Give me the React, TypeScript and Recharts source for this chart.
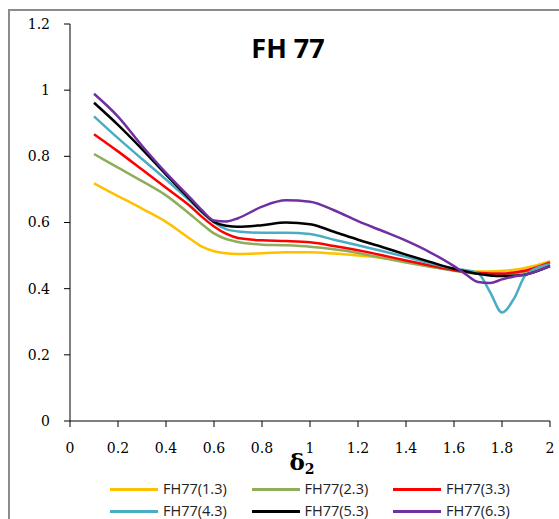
import React from "react";
import { LineChart, Line, XAxis, YAxis, Legend } from "recharts";

// x values (δ2)
const xs = [0.1, 0.2, 0.3, 0.4, 0.5, 0.55, 0.6, 0.65, 0.7, 0.8, 0.9, 1.0, 1.1, 1.2, 1.3, 1.4, 1.5, 1.6, 1.65, 1.7, 1.75, 1.8, 1.85, 1.9, 2.0];

const fh77_13 = [0.718, 0.68, 0.642, 0.602, 0.551, 0.527, 0.513, 0.507, 0.505, 0.507, 0.51, 0.51, 0.506, 0.5, 0.493, 0.481, 0.468, 0.456, 0.453, 0.452, 0.452, 0.454, 0.457, 0.463, 0.483];
const fh77_23 = [0.807, 0.766, 0.725, 0.682, 0.625, 0.595, 0.567, 0.55, 0.541, 0.533, 0.531, 0.527, 0.519, 0.508, 0.493, 0.479, 0.466, 0.454, 0.449, 0.445, 0.443, 0.443, 0.446, 0.452, 0.474];
const fh77_33 = [0.867, 0.815, 0.76, 0.705, 0.65, 0.617, 0.588, 0.566, 0.553, 0.546, 0.544, 0.54, 0.529, 0.516, 0.501, 0.485, 0.47, 0.456, 0.451, 0.448, 0.446, 0.446, 0.449, 0.455, 0.479];
const fh77_43 = [0.921, 0.855, 0.792, 0.73, 0.665, 0.63, 0.6, 0.58, 0.573, 0.569, 0.569, 0.565, 0.548, 0.531, 0.514, 0.496, 0.477, 0.46, 0.456, 0.447, 0.39, 0.328, 0.37, 0.443, 0.474];
const fh77_53 = [0.962, 0.895, 0.822, 0.745, 0.67, 0.633, 0.602, 0.59, 0.587, 0.592, 0.6, 0.595, 0.572, 0.548, 0.526, 0.503, 0.481, 0.46, 0.452, 0.445, 0.44, 0.438, 0.439, 0.443, 0.468];
const fh77_63 = [0.989, 0.92, 0.832, 0.75, 0.675, 0.637, 0.606, 0.603, 0.613, 0.648, 0.667, 0.663, 0.637, 0.604, 0.575, 0.545, 0.51, 0.468, 0.443, 0.42, 0.417, 0.428, 0.437, 0.443, 0.468];

const seriesNames = ["FH77(1.3)", "FH77(2.3)", "FH77(3.3)", "FH77(4.3)", "FH77(5.3)", "FH77(6.3)"];
const seriesValues = [fh77_13, fh77_23, fh77_33, fh77_43, fh77_53, fh77_63];
const seriesColors = ["#FFC000", "#8FAD5A", "#FF0000", "#4BACC6", "#000000", "#7030A0"];

const xTicks = [0, 0.2, 0.4, 0.6, 0.8, 1, 1.2, 1.4, 1.6, 1.8, 2];
const yTicks = [0, 0.2, 0.4, 0.6, 0.8, 1, 1.2];

const data = xs.map((x, i) => {
  const row: Record<string, number> = { x };
  seriesNames.forEach((n, k) => {
    row[n] = seriesValues[k][i];
  });
  return row;
});

const tickFont = { fontFamily: "'DejaVu Serif', serif", fontSize: 14, fill: "#000" };

const LegendContent = () => (
  <div style={{ position: "relative", width: 559, height: 36 }}>
    {seriesNames.map((n, k) => {
      const col = k % 3;
      const row = Math.floor(k / 3);
      const left = 110 + col * 141.5;
      const top = row * 22;
      return (
        <div key={n} style={{ position: "absolute", left, top, height: 14, display: "flex", alignItems: "center", whiteSpace: "nowrap" }}>
          <div style={{ width: 48, height: 3, background: seriesColors[k] }} />
          <span style={{ marginLeft: 5, fontFamily: "'Open Sans', sans-serif", fontSize: 14.5, lineHeight: "14px", color: "#222" }}>{n}</span>
        </div>
      );
    })}
  </div>
);

const AxisLabel = (props: any) => {
  const vb = props.viewBox || {};
  const cx = vb.x + vb.width / 2 - 8;
  return (
    <text x={cx} y={vb.y + 49} textAnchor="middle" fontFamily="'DejaVu Serif', serif" fontWeight="bold" fontSize={23} fill="#000">
      <tspan>δ</tspan>
      <tspan fontSize={14} dy={4}>2</tspan>
    </text>
  );
};

export default function App() {
  return (
    <div style={{ position: "absolute", left: 0, top: 0, width: 559, height: 519, background: "#fff", overflow: "hidden" }}>
      <div style={{ position: "absolute", left: 8, top: 9, width: 600, height: 600, border: "2px solid #8c8c8c", boxSizing: "border-box" }} />
      <div style={{ position: "absolute", left: 200, width: 176, top: 30, textAlign: "center", fontFamily: "'Open Sans', sans-serif", fontWeight: 700, fontSize: 27, color: "#000", lineHeight: "36px" }}>
        FH 77
      </div>
      <LineChart width={559} height={519} data={data} margin={{ top: 24, right: 9, left: 0, bottom: 0 }}>
        <XAxis
          dataKey="x"
          type="number"
          domain={[0, 2]}
          ticks={xTicks}
          interval={0}
          tick={tickFont}
          tickSize={6}
          tickMargin={16}
          stroke="#000"
          height={62}
          label={<AxisLabel />}
        />
        <YAxis
          type="number"
          domain={[0, 1.2]}
          ticks={yTicks}
          interval={0}
          tick={tickFont}
          tickSize={6}
          tickMargin={14}
          stroke="#000"
          width={70}
        />
        <Legend
          verticalAlign="bottom"
          content={<LegendContent />}
          wrapperStyle={{ left: 0, top: 482, width: 559, height: 36, bottom: "auto" }}
        />
        {seriesNames.map((n, k) => (
          <Line
            key={n}
            type="monotone"
            dataKey={n}
            stroke={seriesColors[k]}
            strokeWidth={2.5}
            dot={false}
            isAnimationActive={false}
          />
        ))}
      </LineChart>
    </div>
  );
}
